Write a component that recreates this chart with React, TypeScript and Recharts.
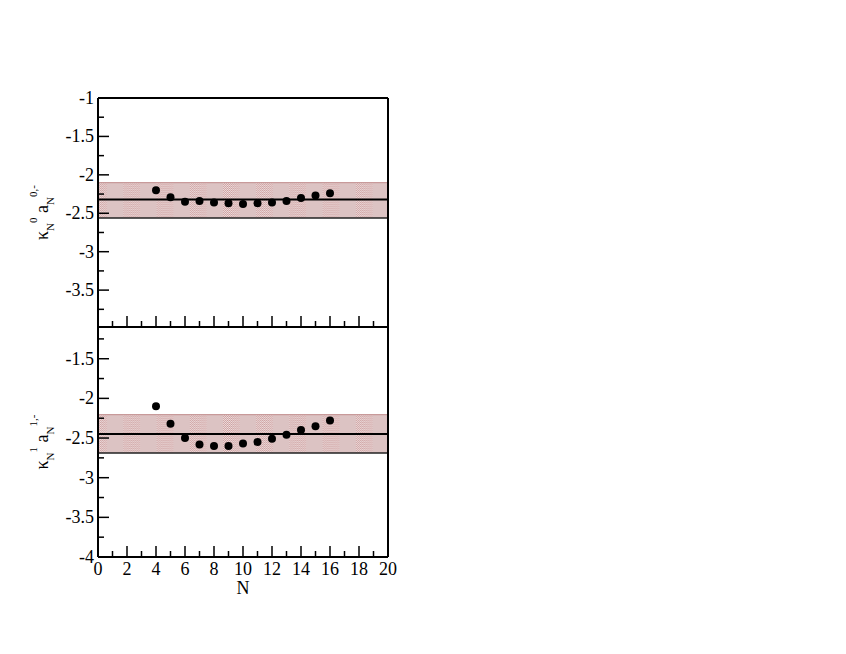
import { ScatterChart, Scatter, XAxis, YAxis, ReferenceArea, ReferenceLine } from "recharts";

// N values where the two quantities were computed
const nValues = [4, 5, 6, 7, 8, 9, 10, 11, 12, 13, 14, 15, 16];
const kappa0 = [-2.2, -2.29, -2.35, -2.34, -2.36, -2.37, -2.38, -2.37, -2.36, -2.34, -2.3, -2.27, -2.24];
const kappa1 = [-2.1, -2.32, -2.5, -2.58, -2.6, -2.6, -2.57, -2.55, -2.51, -2.46, -2.4, -2.35, -2.28];

// band: [lower edge, central value, upper edge]
const band0 = [-2.56, -2.32, -2.1];
const band1 = [-2.69, -2.45, -2.205];

const xTicks = [0, 1, 2, 3, 4, 5, 6, 7, 8, 9, 10, 11, 12, 13, 14, 15, 16, 17, 18, 19, 20];
const yTicksTop = [-3.75, -3.5, -3.25, -3, -2.75, -2.5, -2.25, -2, -1.75, -1.5, -1.25, -1];
const yTicksBottom = [-4, -3.75, -3.5, -3.25, -3, -2.75, -2.5, -2.25, -2, -1.75, -1.5, -1.25];

const FONT = "Liberation Serif, Times New Roman, DejaVu Serif, serif";
const W = 846;
const H = 654;
const PL = 98;
const PR = 388;
const MAJOR = 11;
const MINOR = 6;

const isMajorY = (v: number) => Math.abs(v * 2 - Math.round(v * 2)) < 1e-6;
const isMajorX = (v: number) => v % 2 === 0;

const txt = { fontFamily: FONT, fontSize: 18, fill: "#000" };

function YLabel({ cy, sup }: { cy: number; sup: string }) {
  return (
    <text transform={`rotate(-90, 48, ${cy})`} x={48} y={cy} textAnchor="middle" style={txt}>
      κ
      <tspan style={{ fontSize: 11 }} dy={6}>N</tspan>
      <tspan style={{ fontSize: 11 }} dy={-17}>{sup}</tspan>
      <tspan dy={11}> a</tspan>
      <tspan style={{ fontSize: 11 }} dy={6}>N</tspan>
      <tspan style={{ fontSize: 11 }} dy={-17}>{sup},-</tspan>
    </text>
  );
}

function XLabel({ baseline }: { baseline: number }) {
  return (
    <text x={(PL + PR) / 2} y={baseline} textAnchor="middle" style={txt}>
      N
    </text>
  );
}

interface PanelProps {
  id: string;
  plotTop: number;
  plotBottom: number;
  domain: [number, number];
  yTicks: number[];
  vals: number[];
  band: number[];
  sup: string;
  showX: boolean;
}

function Panel({ id, plotTop, plotBottom, domain, yTicks, vals, band, sup, showX }: PanelProps) {
  const data = nValues.map((n, i) => ({ n, v: vals[i] }));

  const leftTick = (p: any) => {
    const v = p.payload.value;
    const maj = isMajorY(v);
    return (
      <g>
        <line x1={PL} x2={PL + (maj ? MAJOR : MINOR)} y1={p.y} y2={p.y} stroke="#000" strokeWidth={1.5} />
        {maj && (
          <text x={PL - 4} y={p.y} dy={6} textAnchor="end" style={txt}>
            {String(v)}
          </text>
        )}
      </g>
    );
  };
  const rightTick = (p: any) => {
    const maj = isMajorY(p.payload.value);
    return <line x1={PR} x2={PR - (maj ? MAJOR : MINOR)} y1={p.y} y2={p.y} stroke="#000" strokeWidth={1.5} />;
  };
  const bottomTick = (p: any) => {
    const v = p.payload.value;
    const maj = isMajorX(v);
    return (
      <g>
        <line x1={p.x} x2={p.x} y1={plotBottom} y2={plotBottom - (maj ? MAJOR : MINOR)} stroke="#000" strokeWidth={1.5} />
        {showX && maj && (
          <text x={p.x} y={plotBottom + 18} textAnchor="middle" style={txt}>
            {String(v)}
          </text>
        )}
      </g>
    );
  };
  const topTick = (p: any) => {
    const maj = isMajorX(p.payload.value);
    return <line x1={p.x} x2={p.x} y1={plotTop} y2={plotTop + (maj ? MAJOR : MINOR)} stroke="#000" strokeWidth={1.5} />;
  };

  const axisLine = { stroke: "#000", strokeWidth: 2 };

  return (
    <ScatterChart
      width={W}
      height={H}
      margin={{ top: plotTop - 1, right: W - PR - 1, bottom: H - plotBottom - 1, left: 0 }}
      style={{ position: "absolute", top: 0, left: 0 }}
    >
      <defs>
        <pattern id={`chk-${id}`} width={2} height={2} patternUnits="userSpaceOnUse">
          <rect width={2} height={2} fill="#efe2e2" />
          <rect width={1} height={1} fill="#cc9c9c" />
          <rect x={1} y={1} width={1} height={1} fill="#cc9c9c" />
        </pattern>
        <pattern id={`band-${id}`} x={90.3} y={0} width={33.2} height={H} patternUnits="userSpaceOnUse">
          <rect width={33.2} height={H} fill="#dcc3c3" />
          <rect width={16.6} height={H} fill={`url(#chk-${id})`} />
        </pattern>
      </defs>
      <XAxis
        type="number"
        dataKey="n"
        domain={[0, 20]}
        ticks={xTicks}
        interval={0}
        height={1}
        axisLine={axisLine}
        tickLine={false}
        tick={bottomTick}
        label={showX ? <XLabel baseline={plotBottom + 37} /> : undefined}
      />
      <XAxis
        xAxisId="t"
        orientation="top"
        type="number"
        dataKey="n"
        domain={[0, 20]}
        ticks={xTicks}
        interval={0}
        height={1}
        axisLine={axisLine}
        tickLine={false}
        tick={topTick}
      />
      <YAxis
        type="number"
        dataKey="v"
        domain={domain}
        ticks={yTicks}
        interval={0}
        width={PL}
        axisLine={axisLine}
        tickLine={false}
        tick={leftTick}
        label={<YLabel cy={(plotTop + plotBottom) / 2} sup={sup} />}
      />
      <YAxis
        yAxisId="r"
        orientation="right"
        type="number"
        dataKey="v"
        domain={domain}
        ticks={yTicks}
        interval={0}
        width={1}
        axisLine={axisLine}
        tickLine={false}
        tick={rightTick}
      />
      <ReferenceArea y1={band[0]} y2={band[2]} fill={`url(#band-${id})`} fillOpacity={1} stroke="none" />
      <ReferenceLine y={band[2]} stroke="#c89a9a" strokeWidth={1.2} />
      <ReferenceLine y={band[0]} stroke="#222" strokeWidth={1.5} />
      <ReferenceLine y={band[1]} stroke="#000" strokeWidth={2} />
      <Scatter
        data={data}
        isAnimationActive={false}
        shape={(p: any) => <circle cx={p.cx} cy={p.cy} r={4} fill="#000" />}
      />
    </ScatterChart>
  );
}

export default function App() {
  return (
    <div style={{ position: "relative", width: W, height: H, margin: -8, background: "#fff" }}>
      <Panel id="a" plotTop={98} plotBottom={327} domain={[-3.98, -1]} yTicks={yTicksTop} vals={kappa0} band={band0} sup="0" showX={false} />
      <Panel id="b" plotTop={327} plotBottom={557} domain={[-4, -1.1]} yTicks={yTicksBottom} vals={kappa1} band={band1} sup="1" showX={true} />
    </div>
  );
}
